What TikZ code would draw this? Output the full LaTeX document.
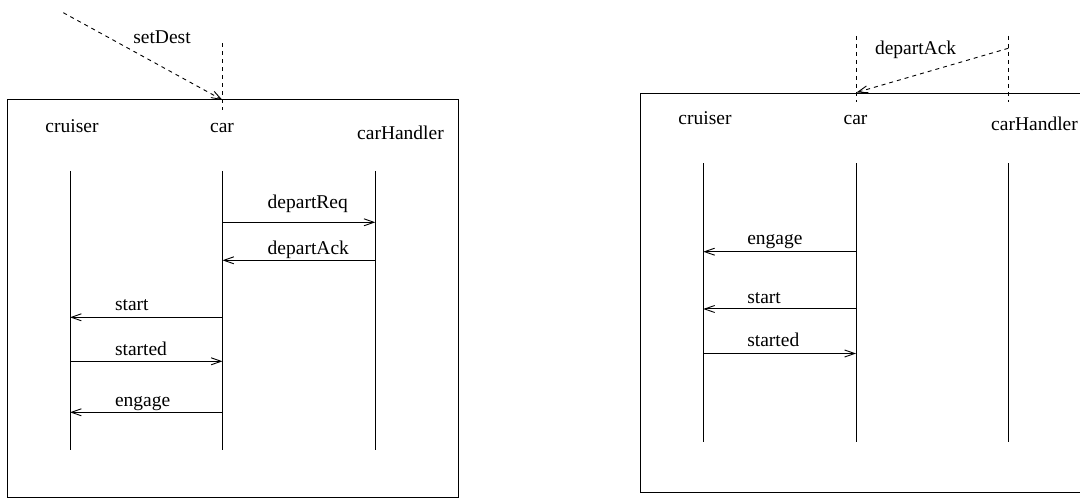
\documentclass[tikz,border=0pt]{standalone}
\usepackage{fontspec}
\setmainfont{Liberation Serif}
\usetikzlibrary{arrows.meta}
\begin{document}
\begin{tikzpicture}[x=1pt,y=-1pt,
  every node/.style={inner sep=0pt,outer sep=0pt,font=\fontsize{19.5}{23}\selectfont},
  frame/.style={draw,line width=1pt},
  lifeline/.style={draw,line width=1pt},
  msg/.style={draw,line width=1pt,-{Straight Barb[length=10pt,width=7pt,line width=0.9pt]}},
  env/.style={draw,line width=0.9pt,dash pattern=on 4pt off 4pt},
  envmsg/.style={env,-{Straight Barb[length=10pt,width=7pt,line width=0.9pt,sep=0pt]}},
  lbl/.style={anchor=base west},
  head/.style={anchor=base}]
\useasboundingbox (0,0) rectangle (1080,502);
\begin{scope}
\clip (0,0) rectangle (1080,502);

% ---------- left scenario ----------
\draw[frame] (7,100) rectangle (458,498);
\node[head] (lcr) at (72,132.7) {cruiser};
\node[head] (lca) at (222,132.7) {car};
\node[head] (lch) at (400.5,139.3) {carHandler};

\coordinate (lcrT) at (70,171);  \coordinate (lcrB) at (70,450);
\coordinate (lcaT) at (222.5,171); \coordinate (lcaB) at (222.5,450);
\coordinate (lchT) at (375.3,171); \coordinate (lchB) at (375.3,450);
\draw[lifeline] (lcrT) -- (lcrB);
\draw[lifeline] (lcaT) -- (lcaB);
\draw[lifeline] (lchT) -- (lchB);

% incoming setDest from the environment
\coordinate (lenvT) at (222.5,43.3);
\coordinate (lenvB) at (222.5,110);
\coordinate (lsrc) at (63.3,12.7);
\coordinate (ldst) at (222.5,100);
\draw[env] (lenvT) -- (lenvB);
\draw[envmsg] (lsrc) -- (ldst);
\node[lbl] (lsd) at (133.3,43.3) {setDest};

% messages
\coordinate (m1a) at (222.5,222.3); \coordinate (m1b) at (375.3,222.3);
\coordinate (m2a) at (375.3,260.3); \coordinate (m2b) at (222.5,260.3);
\coordinate (m3a) at (222.5,317.3); \coordinate (m3b) at (70,317.3);
\coordinate (m4a) at (70,361.3);    \coordinate (m4b) at (222.5,361.3);
\coordinate (m5a) at (222.5,412.3); \coordinate (m5b) at (70,412.3);
\draw[msg] (m1a) -- (m1b);
\draw[msg] (m2a) -- (m2b);
\draw[msg] (m3a) -- (m3b);
\draw[msg] (m4a) -- (m4b);
\draw[msg] (m5a) -- (m5b);
\node[lbl] (t1) at (267.7,209) {departReq};
\node[lbl] (t2) at (267.7,254.3) {departAck};
\node[lbl] (t3) at (115,310.7) {start};
\node[lbl] (t4) at (115,355.7) {started};
\node[lbl] (t5) at (115,406.3) {engage};

% ---------- right scenario ----------
\draw[frame] (640,93.3) rectangle (1095,492.7);
\node[head] (rcr) at (705,125) {cruiser};
\node[head] (rca) at (855.5,125) {car};
\node[head] (rch) at (1034.5,130.7) {carHandler};

\coordinate (rcrT) at (703.3,163.3); \coordinate (rcrB) at (703.3,442.3);
\coordinate (rcaT) at (856,163.3);   \coordinate (rcaB) at (856,442.3);
\coordinate (rchT) at (1008.3,163.3); \coordinate (rchB) at (1008.3,442.3);
\draw[lifeline] (rcrT) -- (rcrB);
\draw[lifeline] (rcaT) -- (rcaB);
\draw[lifeline] (rchT) -- (rchB);

% departAck arriving from outside
\coordinate (renvAT) at (856,36);    \coordinate (renvAB) at (856,101.7);
\coordinate (renvBT) at (1008.3,36); \coordinate (renvBB) at (1008.3,101.7);
\coordinate (rsrc) at (1008.3,48.3);
\coordinate (rdst) at (856.5,92.5);
\draw[env] (renvAT) -- (renvAB);
\draw[env] (renvBT) -- (renvBB);
\draw[envmsg] (rsrc) -- (rdst);
\node[lbl] (rda) at (875,54.3) {departAck};

% messages
\coordinate (n1a) at (856,251.7);   \coordinate (n1b) at (703.3,251.7);
\coordinate (n2a) at (856,309);     \coordinate (n2b) at (703.3,309);
\coordinate (n3a) at (703.3,353.5); \coordinate (n3b) at (856,353.5);
\draw[msg] (n1a) -- (n1b);
\draw[msg] (n2a) -- (n2b);
\draw[msg] (n3a) -- (n3b);
\node[lbl] (s1) at (747.3,245) {engage};
\node[lbl] (s2) at (747.3,303.3) {start};
\node[lbl] (s3) at (747.3,346.7) {started};
\end{scope}
\end{tikzpicture}
\end{document}
